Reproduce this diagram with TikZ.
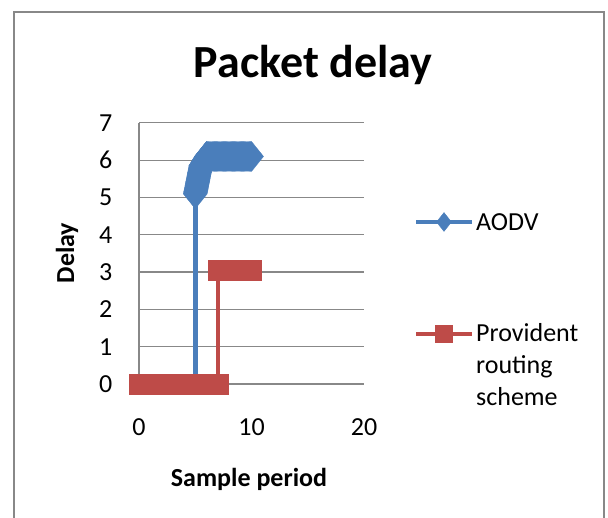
\documentclass[tikz,border=0pt]{standalone}
\usepackage{fontspec}
\setmainfont{Carlito}
\usetikzlibrary{plotmarks}
\definecolor{aodvblue}{HTML}{4A7EBB}
\definecolor{provred}{HTML}{BE4B48}
\definecolor{gridgray}{HTML}{888888}
\tikzset{
	aodv/.style={aodvblue, line width=4.5pt},
	prov/.style={provred, line width=4.5pt},
	lbl/.style={font=\fontsize{26}{30}\selectfont, inner sep=0pt},
	gridline/.style={gridgray, line width=1.2pt},
}

\begin{document}
\begin{tikzpicture}[x=1pt, y=1pt]
	\useasboundingbox (0,0) rectangle (608,518);
	\draw [gridgray, line width=1.5pt] (14,0) -- (14,506) -- (604,506) -- (604,0);
	\node [inner sep=0pt, anchor=base] (title) at (313,440) {\fontsize{46}{50}\selectfont\bfseries Packet delay};
	\node [lbl, font=\fontsize{26}{30}\selectfont\bfseries, rotate=90] (ylabel) at (67,265) {Delay};
	\node [lbl, font=\fontsize{26}{30}\selectfont\bfseries, anchor=base] (xlabel) at (249,31) {Sample period};
	\begin{scope}[shift={(139,134)}, x=11.25pt, y=37.3pt]
		\foreach \y in {0,...,7}
		\draw [gridline] (0,\y) -- (20,\y);
		\draw [gridline] (0,0) -- (0,7);
		\foreach \y in {0,...,7}
		\node [lbl, anchor=east] (ytick\y) at (-2.36,\y) {\y};
		\foreach \x in {0,10,20}
		\node [lbl] (xtick\x) at (\x,-1.15) {\x};
		\draw [aodv] (5,0) -- (5,5.1);
		\draw [aodv, mark=diamond*, mark size=15pt, mark options={xscale=1.07, line width=0.3pt}]
			plot [domain=0:1, samples=26] ({5+0.5*\x}, {5.1+0.75*\x})
			-- plot [domain=0:1, samples=11] ({5.5+0.5*\x}, {5.85+0.25*\x})
			-- plot [domain=6:10, samples=41] (\x, 6.1);
		\draw [prov, mark=square*, mark size=10pt, mark options={line width=0.3pt}] plot coordinates {(0,0) (1,0) (2,0) (3,0) (4,0) (5,0) (6,0) (7,0) (7,3.05) (8,3.05) (9,3.05) (10,3.05)};
	\end{scope}
	\draw [aodv] (416,296) -- (472,296);
	\path [aodvblue] plot [mark=diamond*, mark size=9.5pt, mark options={xscale=1.05, line width=0.3pt}] coordinates {(444,296)};
	\node [lbl, anchor=west] (aodvkey) at (476,296) {AODV};
	\draw [prov] (416,184) -- (472,184);
	\path [provred] plot [mark=square*, mark size=8.5pt, mark options={line width=0.3pt}] coordinates {(444,184)};
	\node [lbl, anchor=base west] (provkey) at (476,176) {Provident};
	\node [lbl, anchor=base west] (provkeyb) at (476,144) {routing};
	\node [lbl, anchor=base west] (provkeyc) at (476,112) {scheme};
\end{tikzpicture}
\end{document}
